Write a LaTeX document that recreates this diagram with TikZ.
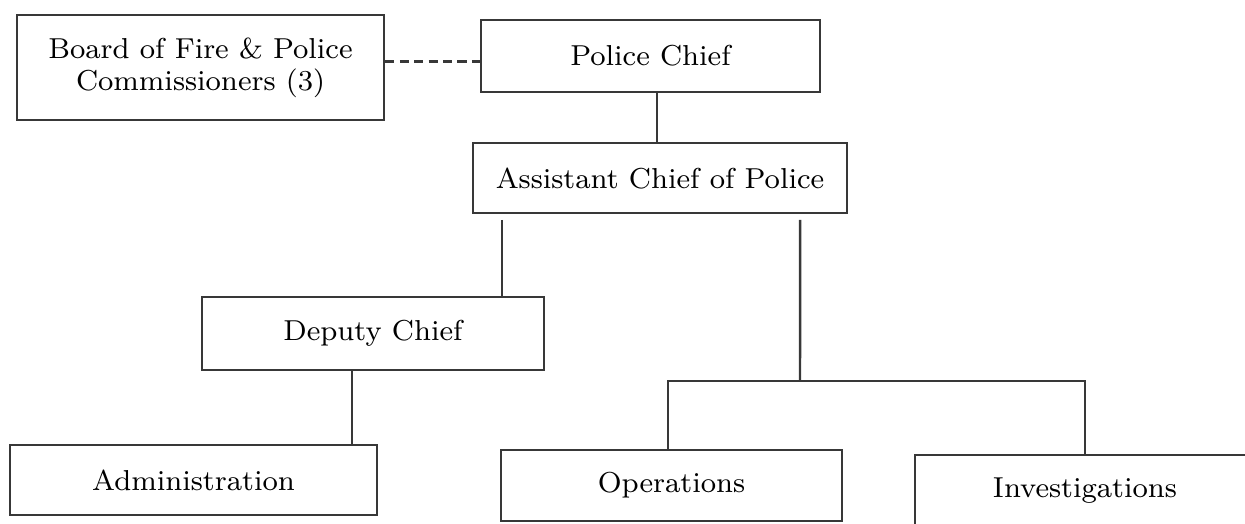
\documentclass[tikz,border=0pt]{standalone}
\usepackage{tikz}
\usetikzlibrary{calc,positioning}
\tikzset{
  box/.style={rectangle,draw=black!78,fill=white,line width=.7pt,inner sep=0pt,
              align=center,font=\fontsize{8.2}{9.1}\selectfont},
  lnk/.style={draw=black!78,line width=.7pt},
  dsh/.style={draw=black!78,line width=.7pt,dash pattern=on 2.6pt off 1.5pt},
}
\begin{document}
\begin{tikzpicture}[x=0.01cm,y=-0.01cm]
\useasboundingbox (0,0) rectangle (1245,523);
% top row: the board sits beside the chief
\node[box,minimum width=3.67cm,minimum height=1.05cm] (board) at (200.5,67.5)
  {Board of Fire \& Police\\Commissioners (3)};
\node[box,minimum width=3.39cm,minimum height=0.72cm] (pc) at (650.5,56) {Police Chief};
\node[box,minimum width=3.74cm,minimum height=0.70cm] (asst) at (660,178) {Assistant Chief of Police};
% middle and bottom rows
\node[box,minimum width=3.42cm,minimum height=0.73cm] (dep) at (373,333.5) {Deputy Chief};
\node[box,minimum width=3.67cm,minimum height=0.70cm] (adm) at (193.5,480) {Administration};
\node[box,minimum width=3.41cm,minimum height=0.71cm] (ops) at (671.5,485.5) {Operations};
\node[box,minimum width=3.40cm,minimum height=0.72cm] (inv) at (1085,491) {Investigations};
% links
\draw[dsh] ([yshift=.06cm]board.east) -- ([yshift=.06cm]board.east -| pc.west);
\draw[lnk] ([xshift=-.03cm]asst.north |- pc.south) -- ([xshift=-.03cm]asst.north);
\draw[lnk,shorten <=1.6pt] ([xshift=-1.58cm]asst.south) -- ([xshift=-1.58cm]asst.south |- dep.north);
\draw[lnk] ([xshift=-.21cm]dep.south) -- ([xshift=-.21cm]dep.south |- adm.north);
\coordinate (br) at (800,381);
\draw[lnk,shorten <=1.6pt] ([xshift=1.4cm]asst.south) -- (br);
\draw[lnk] ([xshift=-.035cm]ops.north) |- (br) -| (inv.north);
\end{tikzpicture}
\end{document}
